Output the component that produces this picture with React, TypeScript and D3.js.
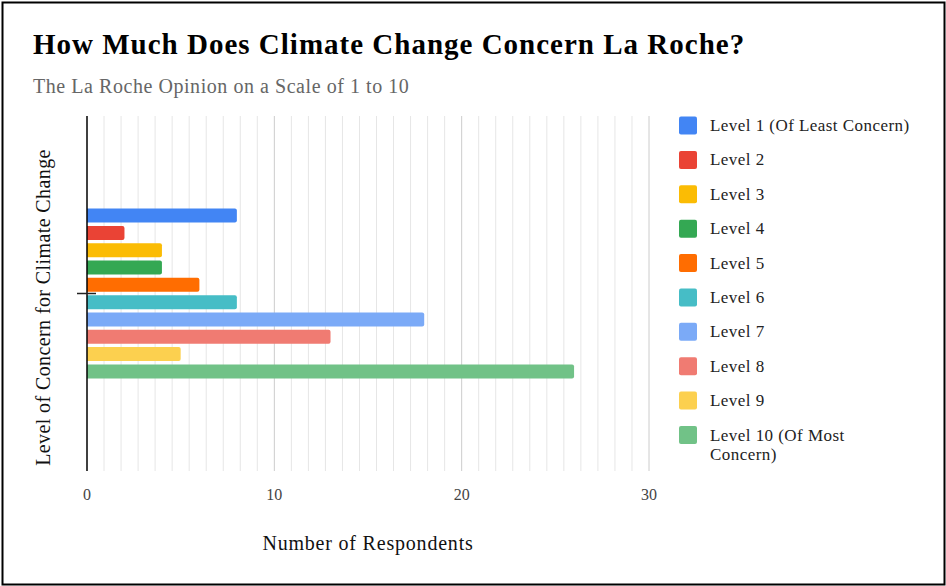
import { useMemo } from "react";
import { scaleLinear, scaleBand, range } from "d3";

// chart data
const levelNames = [
	"Level 1 (Of Least Concern)",
	"Level 2",
	"Level 3",
	"Level 4",
	"Level 5",
	"Level 6",
	"Level 7",
	"Level 8",
	"Level 9",
	"Level 10 (Of Most Concern)",
];
const respondents = [8, 2, 4, 4, 6, 8, 18, 13, 5, 26];
const levelColors = [
	"#4285F4",
	"#EA4335",
	"#FBBC04",
	"#34A853",
	"#FF6D01",
	"#46BDC6",
	"#7BAAF7",
	"#F07B72",
	"#FCD04F",
	"#71C287",
];
const xTicks = [0, 10, 20, 30];

const titleText = "How Much Does Climate Change Concern La Roche?";
const subtitleText = "The La Roche Opinion on a Scale of 1 to 10";
const xTitle = "Number of Respondents";
const yTitle = "Level of Concern for Climate Change";

const W = 946;
const H = 586;
const FONT = "'Liberation Serif', 'Times New Roman', serif";

const plot = { left: 87, right: 649, top: 116, bottom: 471 };

// legend lines wrap like the original
function wrapLabel(label: string): string[] {
	if (label === "Level 10 (Of Most Concern)") return ["Level 10 (Of Most", "Concern)"];
	return [label];
}

export default function App() {
	const xScale = useMemo(
		() => scaleLinear().domain([0, 30]).range([plot.left, plot.right]),
		[]
	);
	const groupScale = useMemo(
		() => scaleBand<string>().domain([""]).range([plot.top, plot.bottom]).paddingOuter(0.525),
		[]
	);
	const barScale = useMemo(
		() =>
			scaleBand<string>()
				.domain(levelNames)
				.range([0, groupScale.bandwidth()])
				.paddingInner(0.19)
				.paddingOuter(0.095),
		[groupScale]
	);

	const groupTop = groupScale("") ?? 0;
	const groupMid = groupTop + groupScale.bandwidth() / 2;

	// 10 minor lines between each pair of major ticks
	const minorTicks: number[] = [];
	for (let i = 0; i < xTicks.length - 1; i++) {
		const a = xTicks[i];
		const b = xTicks[i + 1];
		range(1, 11).forEach((k) => minorTicks.push(a + ((b - a) * k) / 11));
	}

	const legendY = scaleLinear().domain([0, 9]).range([125.5, 435]);

	return (
		<svg
			width={W}
			height={H}
			style={{ position: "absolute", left: 0, top: 0, display: "block", background: "#fff" }}
			fontFamily={FONT}
		>
			<rect x={2.5} y={2.5} width={W - 4} height={H - 4} fill="#fff" stroke="#000" strokeWidth={2} />

			<text x={33} y={54} fontSize={29} fontWeight="bold" fill="#000" letterSpacing={1}>
				{titleText}
			</text>
			<text x={33} y={93} fontSize={20} fill="#666" letterSpacing={0.55}>
				{subtitleText}
			</text>

			{minorTicks.map((t, i) => (
				<line
					key={"m" + i}
					x1={xScale(t)}
					x2={xScale(t)}
					y1={plot.top}
					y2={plot.bottom}
					stroke="#e6e6e6"
					strokeWidth={1}
				/>
			))}
			{xTicks.slice(1).map((t) => (
				<line
					key={"g" + t}
					x1={xScale(t)}
					x2={xScale(t)}
					y1={plot.top}
					y2={plot.bottom}
					stroke="#cccccc"
					strokeWidth={1}
				/>
			))}

			{levelNames.map((name, i) => {
				const y = groupTop + (barScale(name) ?? 0);
				const x0 = xScale(0);
				const w = xScale(respondents[i]) - x0;
				const h = barScale.bandwidth();
				const r = 2;
				const d = `M${x0},${y}H${x0 + w - r}Q${x0 + w},${y} ${x0 + w},${y + r}V${y + h - r}Q${x0 + w},${y + h} ${x0 + w - r},${y + h}H${x0}Z`;
				return <path key={name} d={d} fill={levelColors[i]} />;
			})}

			<line x1={plot.left} x2={plot.left} y1={plot.top} y2={plot.bottom} stroke="#000" strokeWidth={1.5} />
			<line x1={77} x2={96} y1={groupMid} y2={groupMid} stroke="#222" strokeWidth={1.5} />

			{xTicks.map((t) => (
				<text key={"t" + t} x={xScale(t)} y={500} fontSize={16} fill="#444" textAnchor="middle">
					{t}
				</text>
			))}

			<text x={(plot.left + plot.right) / 2} y={550} fontSize={20} fill="#111" textAnchor="middle" letterSpacing={0.8}>
				{xTitle}
			</text>
			<text
				transform={`translate(50,${(plot.top + plot.bottom) / 2 + 14}) rotate(-90)`}
				fontSize={20}
				fill="#111"
				textAnchor="middle"
				letterSpacing={0.4}
			>
				{yTitle}
			</text>

			{levelNames.map((name, i) => {
				const cy = legendY(i);
				return (
					<g key={"l" + name}>
						<rect x={679} y={cy - 9} width={18} height={18} rx={2} fill={levelColors[i]} />
						<text x={710} y={cy + 5.5} fontSize={17} fill="#222" letterSpacing={0.45}>
							{wrapLabel(name).map((line, j) => (
								<tspan key={j} x={710} dy={j === 0 ? 0 : 19}>
									{line}
								</tspan>
							))}
						</text>
					</g>
				);
			})}
		</svg>
	);
}
